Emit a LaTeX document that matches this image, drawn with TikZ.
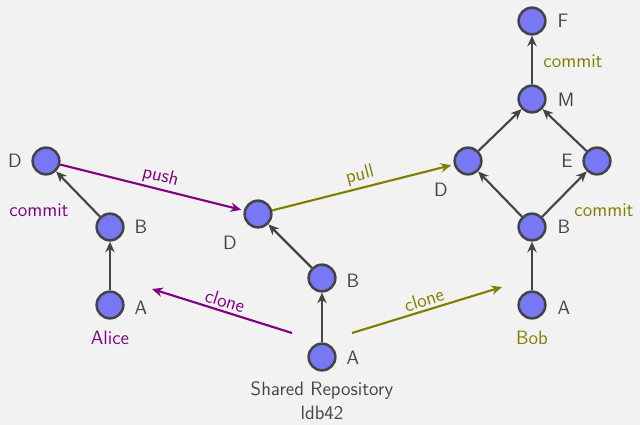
\documentclass[tikz,border=0pt]{standalone}
\usetikzlibrary{arrows.meta}
\definecolor{bg}{HTML}{F2F2F2}
\definecolor{nodefill}{HTML}{7878F5}
\definecolor{dk}{HTML}{444444}
\definecolor{purp}{HTML}{800080}
\definecolor{oliv}{HTML}{808000}
\begin{document}
\begin{tikzpicture}[x=0.75pt,y=-0.75pt,
  font=\sffamily\fontsize{14.5}{17}\selectfont,
  commitnode/.style={circle,draw=dk,fill=nodefill,line width=1.9pt,minimum size=20pt,inner sep=0pt},
  lbl/.style={text=dk},
  hist/.style={draw=dk,line width=1.6pt,-{Stealth[length=8pt,width=7pt]}},
  pur/.style={draw=purp,line width=1.6pt,-{Stealth[length=8pt,width=7pt]}},
  olv/.style={draw=oliv,line width=1.6pt,-{Stealth[length=8pt,width=7pt]}}]
\fill[bg] (0,0) rectangle (640,425);
\useasboundingbox (0,0) rectangle (640,425);
% Alice
\node[commitnode] (aA) at (110,305) {};
\node[commitnode] (aB) at (110,227) {};
\node[commitnode] (aD) at (46,161) {};
\node[lbl] (laA) at (141,308) {A};
\node[lbl] (laB) at (141,227) {B};
\node[lbl] (laD) at (15,161) {D};
\node[text=purp] (alice) at (110,338) {Alice};
\node[text=purp] (acommit) at (39,210) {commit};
% Shared
\node[commitnode] (sA) at (322,357) {};
\node[commitnode] (sB) at (322,278) {};
\node[commitnode] (sD) at (258,214) {};
\node[lbl] (lsA) at (353,358) {A};
\node[lbl] (lsB) at (353,281) {B};
\node[lbl] (lsD) at (230,243) {D};
\node[lbl] (shared) at (322,391) {Shared Repository};
\node[lbl] (ldb) at (322,413) {ldb42};
% Bob
\node[commitnode] (bA) at (532,305) {};
\node[commitnode] (bB) at (532,227) {};
\node[commitnode] (bD) at (468,161) {};
\node[commitnode] (bE) at (597,161) {};
\node[commitnode] (bM) at (532,99) {};
\node[commitnode] (bF) at (532,21) {};
\node[lbl] (lbA) at (564,308) {A};
\node[lbl] (lbB) at (564,227) {B};
\node[lbl] (lbD) at (441,190) {D};
\node[lbl] (lbE) at (567,161) {E};
\node[lbl] (lbM) at (566,100) {M};
\node[lbl] (lbF) at (563,21) {F};
\node[text=oliv] (bob) at (532,338) {Bob};
\node[text=oliv] (bcommit) at (604,210) {commit};
\node[text=oliv] (fcommit) at (573,61) {commit};
% history edges
\draw[hist] (aA) -- (aB);
\draw[hist] (aB) -- (aD);
\draw[hist] (sA) -- (sB);
\draw[hist] (sB) -- (sD);
\draw[hist] (bA) -- (bB);
\draw[hist] (bB) -- (bD);
\draw[hist] (bB) -- (bE);
\draw[hist] (bD) -- (bM);
\draw[hist] (bE) -- (bM);
\draw[hist] (bM) -- (bF);
% push / pull
\draw[pur,shorten >=2pt] (aD) -- node[pos=0.53,sloped,above,text=purp,inner sep=2pt] {push} (sD);
\draw[olv,shorten >=2pt] (sD) -- node[pos=0.5,sloped,above,text=oliv,inner sep=2pt] {pull} (bD);
% clones
\coordinate (c1s) at (292,333);
\coordinate (c1e) at (152,289);
\coordinate (c2s) at (352,333);
\coordinate (c2e) at (502,287);
\draw[pur] (c1s) -- node[pos=0.5,sloped,above,text=purp,inner sep=2pt] {clone} (c1e);
\draw[olv] (c2s) -- node[pos=0.5,sloped,above,text=oliv,inner sep=2pt] {clone} (c2e);
\end{tikzpicture}
\end{document}
